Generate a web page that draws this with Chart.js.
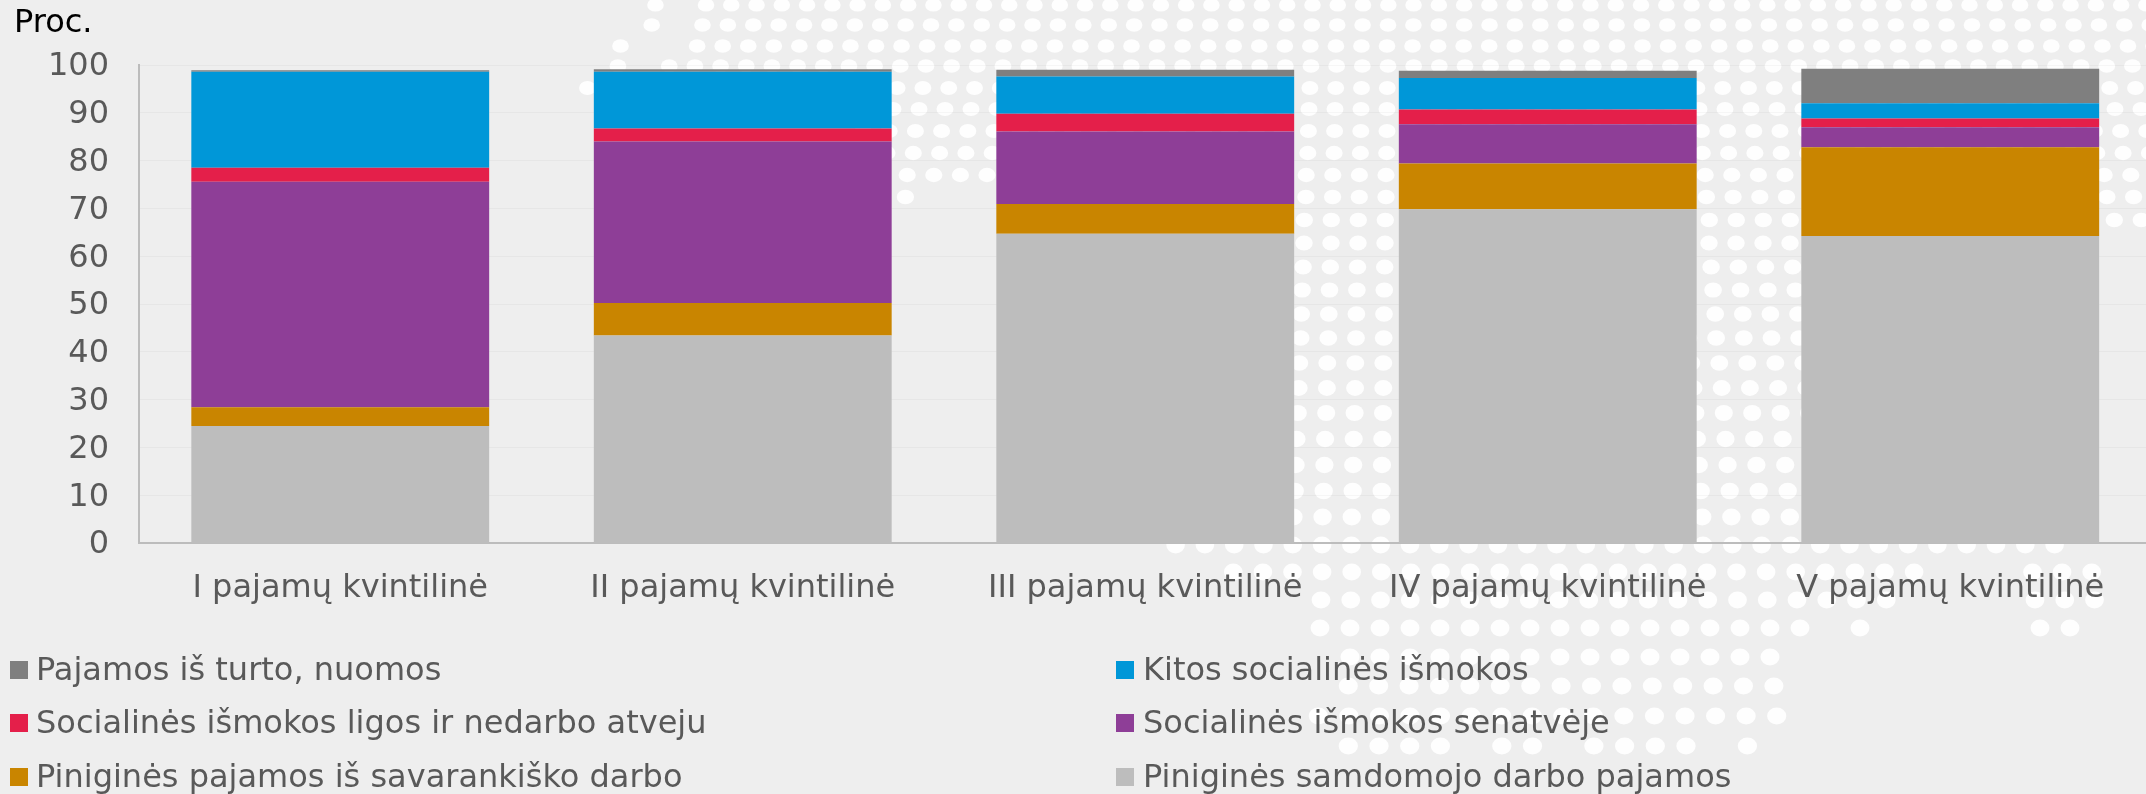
<!DOCTYPE html>
<html lang="lt">
<head>
<meta charset="utf-8">
<title>Pajamos pagal kvintiles</title>
<script src="https://cdn.jsdelivr.net/npm/chart.js@4"></script>
<style>
html,body{margin:0;padding:0;background:#eeeeee;overflow:hidden;width:2146px;height:794px}
#wrap{width:2146px;height:794px;overflow:hidden;position:relative}
canvas{display:block}
</style>
</head>
<body>
<div id="wrap"><canvas id="c" width="2160" height="794" style="width:2160px;height:794px"></canvas></div>
<script>
const categories = ["I pajamų kvintilinė","II pajamų kvintilinė","III pajamų kvintilinė","IV pajamų kvintilinė","V pajamų kvintilinė"];
const samdomojoDarbo = [24.5,43.4,64.7,69.8,64.2];
const savarankiskoDarbo = [3.9,6.8,6.2,9.6,18.6];
const senatveje = [47.2,33.8,15.2,8.2,4.2];
const ligosNedarbo = [2.9,2.7,3.7,3.1,1.8];
const kitosIsmokos = [20.1,11.9,7.8,6.6,3.2];
const turtoNuomos = [0.3,0.5,1.4,1.5,7.2];
const yTicks = [0,10,20,30,40,50,60,70,80,90,100];

const FONT = '"DejaVu Sans", Verdana, sans-serif';
const TXT = '#595959';

/* Decorative dot-map backdrop: [y, anchorX, stepX, [[fromX,toX],...]] */
const backdropRows = [
 [5,1388.3,25.27,[[650,662],[700,2160]]],
 [25,1388,25.39,[[645,657],[698,2160]]],
 [46,1387,25.55,[[615,627],[692,2160]]],
 [66,1388,25.67,[[610,622],[660,2160]]],
 [88,1387.3,25.8,[[580,592],[860,2160]]],
 [109,1387,26,[[860,2160]]],
 [131,1387,26.2,[[860,2160]]],
 [153,1386.7,26.3,[[860,2160]]],
 [175,1386,26.6,[[860,2160]]],
 [197,1386,26.7,[[900,910],[1270,2160]]],
 [220,1385.3,27,[[1270,2160]]],
 [243,1385,27,[[1270,2090]]],
 [267,1384.7,27.2,[[1270,2090]]],
 [290,1384.3,27.4,[[1270,2090]]],
 [314,1384,27.6,[[1270,2090]]],
 [338,1383.7,27.7,[[1270,2090]]],
 [363,1383.3,28,[[1270,2090]]],
 [388,1383.3,28.2,[[1270,2090]]],
 [413,1383,28.4,[[1270,2090]]],
 [439,1382.3,28.6,[[1270,2090]]],
 [465,1382,28.8,[[1270,2090]]],
 [491,1381.7,29,[[1270,2090]]],
 [517,1381,29.2,[[1270,2090]]],
 [545,1380.7,29.3,[[1170,2060]]],
 [572,1233.3,29.6,[[1230,1920],[2025,2095]]],
 [600,1321,29.75,[[1315,1890],[2030,2100]]],
 [628,1320,30,[[1315,1805],[1855,1865],[2035,2075]]],
 [657,1350,30,[[1345,1775]]],
 [686,1348.3,30.4,[[1345,1780]]],
 [716,1318.3,30.56,[[1315,1780]]],
 [746,1348.3,30.7,[[1345,1445],[1495,1540],[1590,1690],[1745,1755]]]
];

const backdrop = {
  id:'backdrop',
  beforeDraw(chart){
    const g = chart.ctx;
    g.save();
    g.fillStyle = 'rgba(255,255,255,0.92)';
    for (const [y,a,s,spans] of backdropRows){
      const rx = 8.3 + y/545, ry = 6.6 + 1.9*Math.min(y,545)/545;
      for (const [from,to] of spans){
        for (let k=Math.ceil((from-a)/s); a+k*s<=to; k++){
          g.beginPath();
          g.ellipse(a+k*s,y,rx,ry,0,0,Math.PI*2);
          g.fill();
        }
      }
    }
    g.restore();
  }
};

/* legend laid out as in the reference: two columns, three rows */
const legendCols = [10,1116];
const legendRowsY = [670,723,777];
const twoColLegend = {
  id:'twoColLegend',
  afterDraw(chart){
    const g = chart.ctx;
    const order = chart.data.datasets.slice().reverse();
    g.save();
    g.textBaseline='middle'; g.textAlign='left';
    g.font = '32px '+FONT;
    order.forEach((d,i)=>{
      const x = legendCols[i%2], y = legendRowsY[Math.floor(i/2)];
      g.fillStyle = d.backgroundColor;
      g.fillRect(x,y-9,18,18);
      g.fillStyle = TXT;
      g.fillText(d.label,x+(i%2?27:26),y+1.5);
    });
    g.restore();
  }
};

new Chart(document.getElementById('c'),{
  type:'bar',
  data:{
    labels:categories,
    datasets:[
      {label:'Piniginės samdomojo darbo pajamos',data:samdomojoDarbo,backgroundColor:'#bdbdbd'},
      {label:'Piniginės pajamos iš savarankiško darbo',data:savarankiskoDarbo,backgroundColor:'#c98500'},
      {label:'Socialinės išmokos senatvėje',data:senatveje,backgroundColor:'#8e3e97'},
      {label:'Socialinės išmokos ligos ir nedarbo atveju',data:ligosNedarbo,backgroundColor:'#e41f4a'},
      {label:'Kitos socialinės išmokos',data:kitosIsmokos,backgroundColor:'#0097d8'},
      {label:'Pajamos iš turto, nuomos',data:turtoNuomos,backgroundColor:'#7f7f7f'}
    ]
  },
  options:{
    responsive:false,
    animation:false,
    layout:{padding:{left:14,right:8.5,top:0,bottom:0}},
    datasets:{bar:{categoryPercentage:1,barPercentage:0.74,borderWidth:0}},
    plugins:{
      legend:{display:false},
      tooltip:{enabled:false},
      title:{display:true,text:'Proc.',align:'start',color:'#000',
        font:{family:FONT,size:32,weight:'normal',lineHeight:1.2},
        padding:{top:4,bottom:22.6}}
    },
    scales:{
      x:{
        stacked:true,
        grid:{display:false,drawTicks:false},
        border:{display:true,color:'#bcbcbc',width:2},
        ticks:{color:TXT,font:{family:FONT,size:32},padding:26,maxRotation:0,autoSkip:false},
        afterFit(s){s.height=251;}
      },
      y:{
        stacked:true,min:0,max:100,
        afterBuildTicks(s){s.ticks=yTicks.map(v=>({value:v}));},
        grid:{color:'rgba(0,0,0,0.03)',lineWidth:1,drawTicks:false},
        border:{display:true,color:'#bcbcbc',width:2},
        ticks:{color:TXT,font:{family:FONT,size:32},padding:30,labelOffset:2},
        afterFit(s){s.width=125;}
      }
    }
  },
  plugins:[backdrop,twoColLegend]
});
</script>
</body>
</html>
